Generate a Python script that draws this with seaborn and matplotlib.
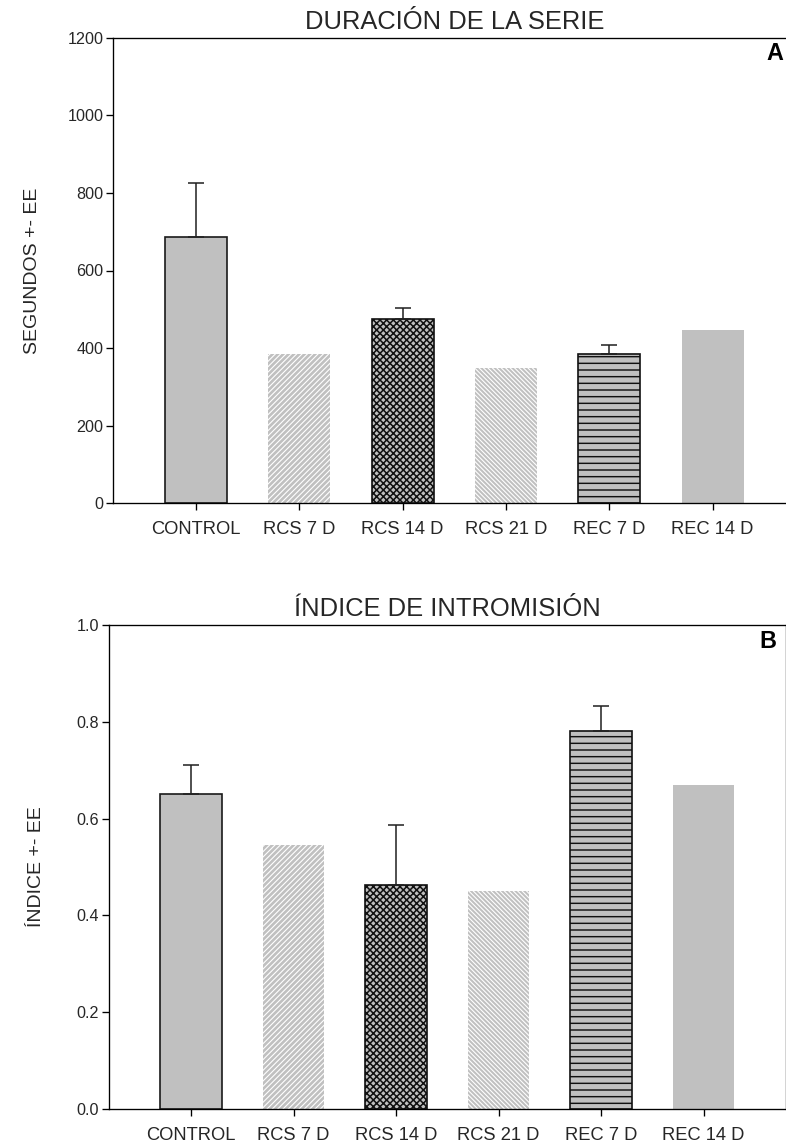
import matplotlib
matplotlib.use("Agg")
import matplotlib.pyplot as plt
import seaborn as sns
import pandas as pd
import numpy as np

# ---- data ----
categories = ["CONTROL", "RCS 7 D", "RCS 14 D", "RCS 21 D", "REC 7 D", "REC 14 D"]
duracion = [687, 386, 474, 348, 385, 447]
duracion_err = [139, None, 30, None, 24, None]
indice = [0.650, 0.545, 0.463, 0.450, 0.781, 0.669]
indice_err = [0.061, None, 0.124, None, 0.052, None]

sns.set_theme(style="ticks")
plt.rcParams["font.family"] = ["Liberation Sans", "DejaVu Sans"]
plt.rcParams["hatch.linewidth"] = 1.0

DPI = 80
fig = plt.figure(figsize=(786 / DPI, 1148 / DPI), dpi=DPI)
fig.patch.set_facecolor("white")

GRAY = "#c0c0c0"
EDGE = "#1a1a1a"
styles = [
    dict(hatch=None, edgecolor=EDGE, linewidth=1.5, hlw=1.0),
    dict(hatch="/////", edgecolor="white", linewidth=0, hlw=1.0),
    dict(hatch="xxxx", edgecolor="#111111", linewidth=1.5, hlw=1.4),
    dict(hatch="\\" * 6, edgecolor="white", linewidth=0, hlw=1.0),
    dict(hatch="--", edgecolor="#111111", linewidth=1.5, hlw=1.3),
    dict(hatch=None, edgecolor=GRAY, linewidth=0, hlw=1.0),
]


def panel(ax, values, errs, title, ylabel, ylim, yticks, yticklabels, letter, letter_x, ylab_x):
    df = pd.DataFrame({"grupo": categories, "valor": values})
    sns.barplot(data=df, x="grupo", y="valor", ax=ax, color=GRAY, width=0.6,
                errorbar=None, saturation=1)
    for p, st in zip(ax.patches, styles):
        p.set_facecolor(GRAY)
        p.set_edgecolor(st["edgecolor"])
        p.set_linewidth(st["linewidth"])
        if st["hatch"]:
            p.set_hatch(st["hatch"])
            if hasattr(p, "set_hatch_linewidth"):
                p.set_hatch_linewidth(st["hlw"])
            else:
                p._hatch_linewidth = st["hlw"]
    xs = [i for i, e in enumerate(errs) if e is not None]
    ys = [values[i] for i in xs]
    es = [errs[i] for i in xs]
    ax.errorbar(xs, ys, yerr=[np.zeros(len(es)), es], fmt="none", ecolor="#222222",
                elinewidth=1.4, capsize=7.5, capthick=1.4, zorder=1)
    ax.set_xlim(-0.8, 5.8)
    ax.set_ylim(*ylim)
    ax.set_yticks(yticks)
    ax.set_yticklabels(yticklabels, fontsize=14.5)
    ax.tick_params(axis="x", labelsize=16.5, length=6, width=1.2, color="black", pad=10)
    ax.tick_params(axis="y", length=6, width=1.2, color="black", pad=3)
    ax.set_xlabel("")
    ax.set_ylabel(ylabel, fontsize=17.5)
    ax.yaxis.set_label_coords(ylab_x, 0.5)
    ax.set_title(title, fontsize=23, pad=8)
    for s in ax.spines.values():
        s.set_visible(True)
        s.set_color("black")
        s.set_linewidth(1.2)
    ax.text(letter_x, 0.965, letter, transform=ax.transAxes, fontsize=21,
            fontweight="bold", ha="left", va="center", color="black")


ax1 = fig.add_axes([113.3 / 786, 1 - 503.3 / 1148, 682 / 786, (503.3 - 37.7) / 1148])
panel(ax1, duracion, duracion_err, "DURACIÓN DE LA SERIE", "SEGUNDOS +- EE",
      (0, 1200), [0, 200, 400, 600, 800, 1000, 1200],
      ["0", "200", "400", "600", "800", "1000", "1200"], "A", 0.958, -0.106)

ax2 = fig.add_axes([109 / 786, 1 - 1109 / 1148, 676.5 / 786, (1109 - 625) / 1148])
panel(ax2, indice, indice_err, "ÍNDICE DE INTROMISIÓN", "ÍNDICE +- EE",
      (0, 1.0), [0.0, 0.2, 0.4, 0.6, 0.8, 1.0],
      ["0.0", "0.2", "0.4", "0.6", "0.8", "1.0"], "B", 0.962, -0.094)

fig.savefig("out.png", dpi=DPI, facecolor="white")
